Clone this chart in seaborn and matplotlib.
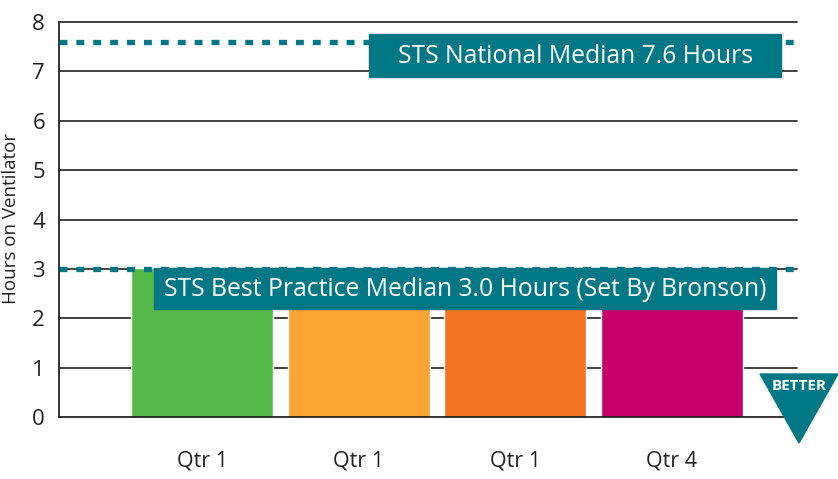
import numpy as np
import pandas as pd
import seaborn as sns
import matplotlib.pyplot as plt
from matplotlib.patches import Rectangle, Polygon

# Data
quarters = ["Qtr 1", "Qtr 1", "Qtr 1", "Qtr 4"]
hours = [3.02, 2.8, 2.6, 2.5]
bar_colors = ["#57B84A", "#F8A533", "#F27421", "#C5006A"]
national_median = 7.6
best_practice_median = 3.0
national_label = "STS National Median 7.6 Hours"
best_label = "STS Best Practice Median 3.0 Hours (Set By Bronson)"

teal = "#007785"

sns.set_style("white")
plt.rcParams['font.family'] = ['Open Sans', 'DejaVu Sans']

df = pd.DataFrame({"slot": [str(i) for i in range(len(quarters))], "hours": hours})

fig = plt.figure(figsize=(8.38, 4.79), dpi=100)
ax = fig.add_axes([0.0704, 0.1294, 0.8807, 0.8246])

sns.barplot(data=df, x="slot", y="hours", hue="slot", palette=bar_colors,
            width=0.907, saturation=1, legend=False, ax=ax, zorder=2)

ax.set_xlim(-0.914, 3.80)
ax.set_ylim(0, 8)
ax.set_yticks(range(0, 9))
ax.set_xticks(range(len(quarters)))
ax.set_xticklabels(quarters, fontsize=15.5, color="#222222")
ax.tick_params(axis="y", labelsize=16, length=0, pad=10, labelcolor="#222222")
ax.tick_params(axis="x", length=0, pad=24)

# horizontal grid lines
for v in range(1, 9):
    ax.axhline(v, color="#333333", lw=1.3, zorder=1, clip_on=False)

for s in ["top", "right"]:
    ax.spines[s].set_visible(False)
ax.spines["left"].set_color("#222222")
ax.spines["bottom"].set_color("#222222")
ax.spines["left"].set_linewidth(1.3)
ax.spines["bottom"].set_linewidth(1.3)

ax.set_xlabel("")
ax.set_ylabel("Hours on Ventilator", fontsize=13.5, color="#222222")
ax.yaxis.set_label_coords(-0.053, 0.504)

# dotted median lines
for v in [national_median, best_practice_median]:
    ax.axhline(v, color=teal, lw=3.8, dashes=(1.5, 1.7), zorder=3)

# label boxes
ax.add_patch(Rectangle((1.067, 6.89), 2.633, 0.87, color=teal, zorder=4))
ax.text((1.067 + 3.70) / 2, 7.31, national_label, color="white", fontsize=17.8,
        ha="center", va="center", zorder=5)
ax.add_patch(Rectangle((-0.307, 2.19), 3.975, 0.83, color=teal, zorder=4))
ax.text((-0.307 + 3.668) / 2, 2.58, best_label, color="white", fontsize=17.8,
        ha="center", va="center", zorder=5)

# BETTER arrow
W, H = 838, 479
tri = Polygon([(760 / W, 1 - 374 / H), (838 / W, 1 - 374 / H), (799 / W, 1 - 443 / H)],
              closed=True, transform=fig.transFigure, color=teal, zorder=10)
fig.patches.append(tri)
fig.text(799 / W, 1 - 386 / H, "BETTER", color="white", fontsize=11, fontweight="bold",
         ha="center", va="center", zorder=11)

fig.savefig("out.png", dpi=100)
